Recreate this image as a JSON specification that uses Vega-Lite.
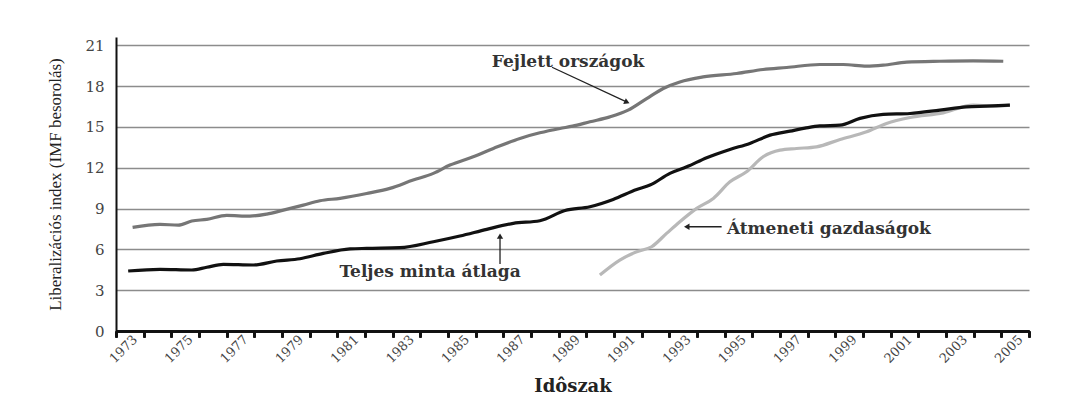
{
  "$schema": "https://vega.github.io/schema/vega-lite/v6.json",
  "width": 913,
  "height": 294,
  "autosize": {"type": "none"},
  "padding": {"left": 116, "top": 37, "right": 51, "bottom": 79},
  "background": "white",
  "datasets": {
    "series": [
      {"series": "Fejlett országok", "year": 1973.1, "value": 7.61},
      {"series": "Fejlett országok", "year": 1974.09, "value": 7.83},
      {"series": "Fejlett országok", "year": 1974.75, "value": 7.78},
      {"series": "Fejlett országok", "year": 1975.24, "value": 8.08},
      {"series": "Fejlett országok", "year": 1975.78, "value": 8.2},
      {"series": "Fejlett országok", "year": 1976.5, "value": 8.49},
      {"series": "Fejlett országok", "year": 1977.34, "value": 8.44},
      {"series": "Fejlett országok", "year": 1977.95, "value": 8.59},
      {"series": "Fejlett országok", "year": 1978.55, "value": 8.88},
      {"series": "Fejlett országok", "year": 1979.27, "value": 9.25},
      {"series": "Fejlett országok", "year": 1979.87, "value": 9.57},
      {"series": "Fejlett országok", "year": 1980.6, "value": 9.75},
      {"series": "Fejlett országok", "year": 1981.56, "value": 10.1},
      {"series": "Fejlett országok", "year": 1982.4, "value": 10.48},
      {"series": "Fejlett országok", "year": 1983.24, "value": 11.09},
      {"series": "Fejlett országok", "year": 1983.97, "value": 11.58},
      {"series": "Fejlett országok", "year": 1984.57, "value": 12.19},
      {"series": "Fejlett országok", "year": 1985.41, "value": 12.8},
      {"series": "Fejlett országok", "year": 1986.14, "value": 13.41},
      {"series": "Fejlett országok", "year": 1987.1, "value": 14.15},
      {"series": "Fejlett országok", "year": 1987.82, "value": 14.56},
      {"series": "Fejlett országok", "year": 1988.55, "value": 14.88},
      {"series": "Fejlett országok", "year": 1989.0, "value": 15.05},
      {"series": "Fejlett országok", "year": 1989.63, "value": 15.37},
      {"series": "Fejlett országok", "year": 1990.35, "value": 15.73},
      {"series": "Fejlett országok", "year": 1991.01, "value": 16.23},
      {"series": "Fejlett országok", "year": 1991.68, "value": 17.08},
      {"series": "Fejlett országok", "year": 1992.28, "value": 17.82},
      {"series": "Fejlett országok", "year": 1992.88, "value": 18.3},
      {"series": "Fejlett országok", "year": 1993.72, "value": 18.67},
      {"series": "Fejlett országok", "year": 1994.93, "value": 18.92},
      {"series": "Fejlett országok", "year": 1995.89, "value": 19.21},
      {"series": "Fejlett országok", "year": 1996.74, "value": 19.36},
      {"series": "Fejlett országok", "year": 1997.94, "value": 19.58},
      {"series": "Fejlett országok", "year": 1998.79, "value": 19.58},
      {"series": "Fejlett országok", "year": 1999.63, "value": 19.46},
      {"series": "Fejlett országok", "year": 2000.23, "value": 19.53},
      {"series": "Fejlett országok", "year": 2001.08, "value": 19.75},
      {"series": "Fejlett országok", "year": 2002.28, "value": 19.82},
      {"series": "Fejlett országok", "year": 2003.48, "value": 19.85},
      {"series": "Fejlett országok", "year": 2004.57, "value": 19.82},
      {"series": "Átmeneti gazdaságok", "year": 1989.99, "value": 4.11},
      {"series": "Átmeneti gazdaságok", "year": 1990.71, "value": 5.21},
      {"series": "Átmeneti gazdaságok", "year": 1991.32, "value": 5.82},
      {"series": "Átmeneti gazdaságok", "year": 1991.86, "value": 6.19},
      {"series": "Átmeneti gazdaságok", "year": 1992.4, "value": 7.17},
      {"series": "Átmeneti gazdaságok", "year": 1992.88, "value": 8.03},
      {"series": "Átmeneti gazdaságok", "year": 1993.49, "value": 9.01},
      {"series": "Átmeneti gazdaságok", "year": 1994.09, "value": 9.74},
      {"series": "Átmeneti gazdaságok", "year": 1994.69, "value": 10.96},
      {"series": "Átmeneti gazdaságok", "year": 1995.29, "value": 11.7},
      {"series": "Átmeneti gazdaságok", "year": 1995.89, "value": 12.8},
      {"series": "Átmeneti gazdaságok", "year": 1996.5, "value": 13.29},
      {"series": "Átmeneti gazdaságok", "year": 1997.1, "value": 13.41},
      {"series": "Átmeneti gazdaságok", "year": 1997.82, "value": 13.53},
      {"series": "Átmeneti gazdaságok", "year": 1998.67, "value": 14.07},
      {"series": "Átmeneti gazdaságok", "year": 1999.63, "value": 14.63},
      {"series": "Átmeneti gazdaságok", "year": 2000.35, "value": 15.25},
      {"series": "Átmeneti gazdaságok", "year": 2001.2, "value": 15.69},
      {"series": "Átmeneti gazdaságok", "year": 2002.4, "value": 16.03},
      {"series": "Átmeneti gazdaságok", "year": 2003.48, "value": 16.59},
      {"series": "Átmeneti gazdaságok", "year": 2004.21, "value": 16.52},
      {"series": "Átmeneti gazdaságok", "year": 2004.81, "value": 16.59},
      {"series": "Teljes minta átlaga", "year": 1972.94, "value": 4.41},
      {"series": "Teljes minta átlaga", "year": 1974.09, "value": 4.53},
      {"series": "Teljes minta átlaga", "year": 1975.24, "value": 4.48},
      {"series": "Teljes minta átlaga", "year": 1975.78, "value": 4.68},
      {"series": "Teljes minta átlaga", "year": 1976.38, "value": 4.9},
      {"series": "Teljes minta átlaga", "year": 1977.46, "value": 4.85},
      {"series": "Teljes minta átlaga", "year": 1978.31, "value": 5.14},
      {"series": "Teljes minta átlaga", "year": 1979.15, "value": 5.31},
      {"series": "Teljes minta átlaga", "year": 1979.99, "value": 5.7},
      {"series": "Teljes minta átlaga", "year": 1980.96, "value": 6.03},
      {"series": "Teljes minta átlaga", "year": 1981.56, "value": 6.07},
      {"series": "Teljes minta átlaga", "year": 1982.76, "value": 6.12},
      {"series": "Teljes minta átlaga", "year": 1983.97, "value": 6.56},
      {"series": "Teljes minta átlaga", "year": 1984.93, "value": 6.98},
      {"series": "Teljes minta átlaga", "year": 1985.9, "value": 7.47},
      {"series": "Teljes minta átlaga", "year": 1986.86, "value": 7.91},
      {"series": "Teljes minta átlaga", "year": 1987.82, "value": 8.1},
      {"series": "Teljes minta átlaga", "year": 1988.73, "value": 8.85},
      {"series": "Teljes minta átlaga", "year": 1989.63, "value": 9.13},
      {"series": "Teljes minta átlaga", "year": 1990.47, "value": 9.67},
      {"series": "Teljes minta átlaga", "year": 1991.32, "value": 10.4},
      {"series": "Teljes minta átlaga", "year": 1991.8, "value": 10.72},
      {"series": "Teljes minta átlaga", "year": 1992.52, "value": 11.58},
      {"series": "Teljes minta átlaga", "year": 1993.13, "value": 12.06},
      {"series": "Teljes minta átlaga", "year": 1993.85, "value": 12.73},
      {"series": "Teljes minta átlaga", "year": 1994.69, "value": 13.34},
      {"series": "Teljes minta átlaga", "year": 1995.41, "value": 13.78},
      {"series": "Teljes minta átlaga", "year": 1996.14, "value": 14.39},
      {"series": "Teljes minta átlaga", "year": 1996.86, "value": 14.68},
      {"series": "Teljes minta átlaga", "year": 1997.4, "value": 14.9},
      {"series": "Teljes minta átlaga", "year": 1997.94, "value": 15.07},
      {"series": "Teljes minta átlaga", "year": 1998.67, "value": 15.12},
      {"series": "Teljes minta átlaga", "year": 1999.39, "value": 15.62},
      {"series": "Teljes minta átlaga", "year": 2000.23, "value": 15.91},
      {"series": "Teljes minta átlaga", "year": 2001.2, "value": 15.98},
      {"series": "Teljes minta átlaga", "year": 2002.28, "value": 16.23},
      {"series": "Teljes minta átlaga", "year": 2003.24, "value": 16.47},
      {"series": "Teljes minta átlaga", "year": 2003.97, "value": 16.52},
      {"series": "Teljes minta átlaga", "year": 2004.81, "value": 16.59}
    ],
    "labels": [
      {"label": "Fejlett országok", "year": 1988.84, "value": 19.75},
      {"label": "Teljes minta átlaga", "year": 1983.85, "value": 4.33},
      {"label": "Átmeneti gazdaságok", "year": 1994.58, "value": 7.49}
    ],
    "arrows": [
      {"arrow": "Fejlett országok", "year": 1990.97, "value": 16.81, "year2": 1988.26, "value2": 19.38},
      {"arrow": "Teljes minta átlaga", "year": 1986.38, "value": 6.97, "year2": 1986.38, "value2": 4.92},
      {"arrow": "Átmeneti gazdaságok", "year": 1993.13, "value": 7.66, "year2": 1994.39, "value2": 7.66}
    ]
  },
  "resolve": {"axis": {"x": "independent"}},
  "encoding": {
    "x": {
      "field": "year",
      "type": "quantitative",
      "scale": {"domain": [1972.5, 2005.5], "nice": false, "zero": false},
      "axis": {
        "orient": "bottom",
        "title": null,
        "values": [1972.5, 1973.5, 1974.5, 1975.5, 1976.5, 1977.5, 1978.5, 1979.5, 1980.5, 1981.5, 1982.5, 1983.5, 1984.5, 1985.5, 1986.5, 1987.5, 1988.5, 1989.5, 1990.5, 1991.5, 1992.5, 1993.5, 1994.5, 1995.5, 1996.5, 1997.5, 1998.5, 1999.5, 2000.5, 2001.5, 2002.5, 2003.5, 2004.5, 2005.5],
        "labels": false,
        "ticks": true,
        "tickSize": 6,
        "tickWidth": 2,
        "tickColor": "#111111",
        "domainColor": "#111111",
        "domainWidth": 2,
        "grid": false
      }
    },
    "y": {
      "field": "value",
      "type": "quantitative",
      "scale": {"domain": [0, 21.6], "nice": false},
      "axis": {
        "title": "Liberalizációs index (IMF besorolás)",
        "values": [0, 3, 6, 9, 12, 15, 18, 21],
        "tickSize": 0,
        "labelPadding": 12,
        "labelFont": "DejaVu Serif",
        "labelFontSize": 15,
        "labelColor": "#444444",
        "domainColor": "#111111",
        "domainWidth": 2,
        "grid": true,
        "gridColor": "#8c8c8c",
        "gridWidth": 1.5,
        "titleFont": "Liberation Serif",
        "titleFontSize": 17,
        "titleFontWeight": "normal",
        "titleColor": "#222222",
        "titlePadding": 20
      }
    }
  },
  "layer": [
    {
      "data": {"name": "series"},
      "mark": {"type": "line", "strokeWidth": 3.2, "interpolate": "monotone"},
      "encoding": {
        "color": {
          "field": "series",
          "type": "nominal",
          "scale": {
            "domain": ["Fejlett országok", "Átmeneti gazdaságok", "Teljes minta átlaga"],
            "range": ["#767676", "#b8b8b8", "#111111"]
          },
          "legend": null
        }
      }
    },
    {
      "data": {"name": "arrows"},
      "mark": {"type": "rule", "color": "#222222", "strokeWidth": 1.3},
      "encoding": {
        "x2": {"field": "year2"},
        "y2": {"field": "value2"}
      }
    },
    {
      "data": {"name": "arrows"},
      "transform": [{"filter": "datum.arrow === 'Fejlett országok'"}],
      "mark": {"type": "point", "shape": "triangle-right", "filled": true, "color": "#222222", "size": 40, "angle": 25, "opacity": 1}
    },
    {
      "data": {"name": "arrows"},
      "transform": [{"filter": "datum.arrow === 'Teljes minta átlaga'"}],
      "mark": {"type": "point", "shape": "triangle-up", "filled": true, "color": "#222222", "size": 40, "opacity": 1}
    },
    {
      "data": {"name": "arrows"},
      "transform": [{"filter": "datum.arrow === 'Átmeneti gazdaságok'"}],
      "mark": {"type": "point", "shape": "triangle-left", "filled": true, "color": "#222222", "size": 40, "opacity": 1}
    },
    {
      "data": {"name": "labels"},
      "transform": [{"filter": "datum.label === 'Átmeneti gazdaságok'"}],
      "mark": {"type": "text", "font": "DejaVu Serif", "fontSize": 17, "fontWeight": "bold", "color": "#333333", "align": "left", "baseline": "middle"},
      "encoding": {"text": {"field": "label"}}
    },
    {
      "data": {"name": "labels"},
      "transform": [{"filter": "datum.label !== 'Átmeneti gazdaságok'"}],
      "mark": {"type": "text", "font": "DejaVu Serif", "fontSize": 17, "fontWeight": "bold", "color": "#333333", "align": "center", "baseline": "middle"},
      "encoding": {
        "x": {
          "field": "year",
          "type": "quantitative",
          "scale": {"domain": [1972.5, 2005.5], "nice": false, "zero": false},
          "axis": {
            "orient": "bottom",
            "title": "Idôszak",
            "values": [1973, 1975, 1977, 1979, 1981, 1983, 1985, 1987, 1989, 1991, 1993, 1995, 1997, 1999, 2001, 2003, 2005],
            "format": "d",
            "ticks": false,
            "domain": false,
            "grid": false,
            "labelAngle": -45,
            "labelAlign": "right",
            "labelBaseline": "middle",
            "labelOffset": 5,
            "labelPadding": 6,
            "labelOverlap": false,
            "labelFlush": false,
            "labelFont": "DejaVu Serif",
            "labelFontSize": 13,
            "labelColor": "#444444",
            "titleFont": "DejaVu Serif",
            "titleFontSize": 18,
            "titleFontWeight": "bold",
            "titleColor": "#222222",
            "titlePadding": 12
          }
        },
        "text": {"field": "label"}
      }
    }
  ],
  "config": {
    "view": {"stroke": null}
  }
}
